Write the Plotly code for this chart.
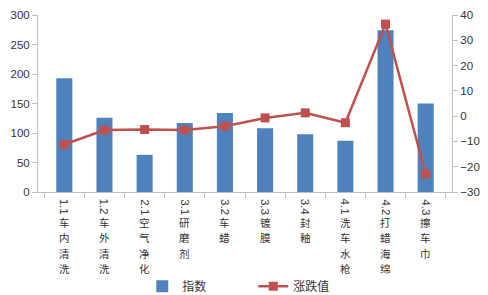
import plotly.graph_objects as go

categories = ["1.1车内清洗", "1.2车外清洗", "2.1空气净化", "3.1研磨剂", "3.2车蜡",
              "3.3镀膜", "3.4封釉", "4.1洗车水枪", "4.2打蜡海绵", "4.3擦车巾"]
index_values = [193, 126, 63, 117, 134, 108, 98, 87, 274, 150]
change_values = [-11.2, -5.5, -5.3, -5.5, -4.0, -0.7, 1.3, -2.6, 36.4, -22.9]
left_ticks = [0, 50, 100, 150, 200, 250, 300]
right_ticks = [-30, -20, -10, 0, 10, 20, 30, 40]

BLUE = "#4f81bd"
RED = "#c0504d"
AXIS = "#bfbfbf"
TEXT = "#333333"
NUMFONT = "Liberation Sans, sans-serif"
CJKFONT = "Noto Sans CJK SC, sans-serif"

fig = go.Figure()
fig.add_trace(go.Bar(x=categories, y=index_values, name="指数",
                     marker=dict(color=BLUE, line=dict(width=0)), yaxis="y"))
fig.add_trace(go.Scatter(x=categories, y=change_values, name="涨跌值", yaxis="y2",
                         mode="lines+markers",
                         line=dict(color=RED, width=2.5),
                         marker=dict(symbol="square", size=9, color=RED)))

# vertical (East-Asian style) category labels: rotated number prefix, upright characters
CJK_SIZE = 10.5
STEP = 15.2
annotations = []
for cat in categories:
    i = 0
    while i < len(cat) and (cat[i].isdigit() or cat[i] == "."):
        i += 1
    prefix, chars = cat[:i], cat[i:]
    annotations.append(dict(x=cat, xref="x", y=0, yref="paper", text=prefix,
                            textangle=90, showarrow=False, xanchor="center",
                            yanchor="middle", yshift=-15, borderpad=0,
                            font=dict(family=NUMFONT, size=11.5, color=TEXT)))
    for k, ch in enumerate(chars):
        annotations.append(dict(x=cat, xref="x", y=0, yref="paper", text=ch,
                                showarrow=False, xanchor="center", yanchor="middle",
                                yshift=-(30.6 + STEP * k), borderpad=0,
                                font=dict(family=CJKFONT, size=CJK_SIZE, color=TEXT)))

fig.update_layout(
    width=488, height=295,
    margin=dict(l=38, r=36, t=15, b=103, autoexpand=False),
    paper_bgcolor="white", plot_bgcolor="white",
    font=dict(family=NUMFONT, size=11.5, color=TEXT),
    bargap=0.6,
    showlegend=True,
    legend=dict(orientation="h", x=0.52, xanchor="center", yref="container",
                y=0.03, yanchor="middle",
                font=dict(size=12, color=TEXT, family=CJKFONT), entrywidth=66, itemwidth=30),
    annotations=annotations,
    xaxis=dict(type="category", showticklabels=False,
               showline=True, linecolor=AXIS, linewidth=1,
               ticks="outside", tickson="boundaries", ticklen=5, tickcolor=AXIS,
               showgrid=False, zeroline=False),
    yaxis=dict(range=[0, 300], tickvals=left_ticks, showline=True, linecolor=AXIS,
               ticks="outside", ticklen=5, tickcolor=AXIS, showgrid=False, zeroline=False),
    yaxis2=dict(range=[-30, 40], tickvals=right_ticks, overlaying="y", side="right",
                showline=True, linecolor=AXIS, ticks="outside", ticklen=5, tickcolor=AXIS,
                showgrid=False, zeroline=False),
)

fig.write_html("out.html")
